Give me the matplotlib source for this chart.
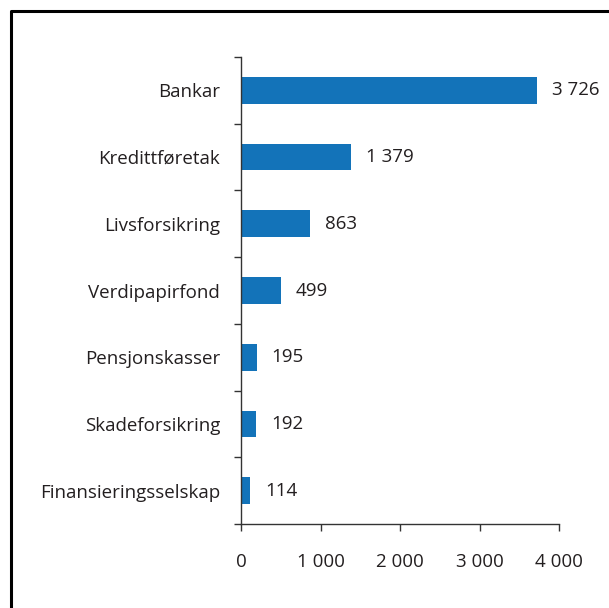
import matplotlib.pyplot as plt
from matplotlib.lines import Line2D

# --- Data ---
categories = ["Bankar", "Kredittføretak", "Livsforsikring", "Verdipapirfond",
              "Pensjonskasser", "Skadeforsikring", "Finansieringsselskap"]
values = [3726, 1379, 863, 499, 195, 192, 114]
xticks = [0, 1000, 2000, 3000, 4000]
xtick_labels = ["0", "1 000", "2 000", "3 000", "4 000"]

BLUE = "#1373b9"
TXT = "#231f20"
FS = 13.5

plt.rcParams['font.family'] = ['Open Sans', 'DejaVu Sans']

fig = plt.figure(figsize=(6.09, 6.08), dpi=100)
ax = fig.add_axes([241 / 609, 1 - 524 / 608, 318 / 609, 467 / 608])

pos = list(range(len(categories)))[::-1]
ax.barh(pos, values, height=0.4, color=BLUE)

for y, v in zip(pos, values):
    lab = f"{v:,}".replace(",", " ")
    ax.text(v + 190, y, lab, va='center', ha='left', fontsize=FS, color=TXT)

ax.set_xlim(0, 4000)
ax.set_ylim(-0.5, len(categories) - 0.5)

# tick lines at category boundaries, labels at centres
ax.set_yticks([p + 0.5 for p in range(-1, len(categories))])
ax.set_yticklabels([])
ax.set_yticks(pos, minor=True)
ax.set_yticklabels(categories, minor=True)
ax.tick_params(axis='y', which='major', length=5, width=1, color='#333333', direction='out')
ax.tick_params(axis='y', which='minor', length=0, pad=15, labelsize=FS, labelcolor=TXT)

ax.set_xticks(xticks)
ax.set_xticklabels(xtick_labels)
ax.tick_params(axis='x', length=5, width=1, color='#333333', direction='out',
               pad=16, labelsize=FS, labelcolor=TXT)

for s in ['top', 'right']:
    ax.spines[s].set_visible(False)
for s in ['left', 'bottom']:
    ax.spines[s].set_color('#333333')
    ax.spines[s].set_linewidth(1)

# frame around the figure (open at right and bottom)
fig.add_artist(Line2D([10.5 / 609, 10.5 / 609, 1.0], [0.0, 1 - 11 / 608, 1 - 11 / 608],
                      transform=fig.transFigure, color='black', lw=2.2))

fig.savefig("out.png", dpi=100)
